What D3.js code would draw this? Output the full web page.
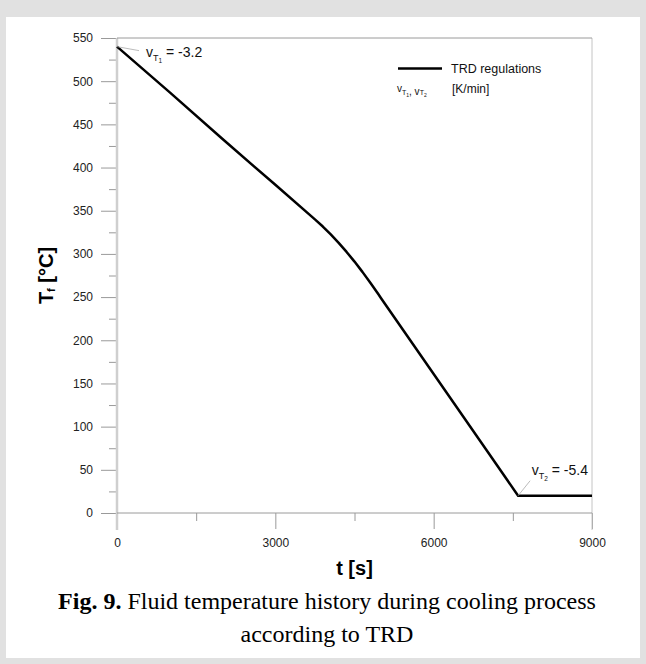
<!DOCTYPE html>
<html>
<head>
<meta charset="utf-8">
<script src="https://cdn.jsdelivr.net/npm/d3@7"></script>
<style>
  html, body { margin: 0; padding: 0; background: #e1e1e1; }
  svg { display: block; }
  .tick text { font-family: "Liberation Sans", Arial, sans-serif; font-size: 12px; fill: #222; }
  .tick line { stroke: #9a9a9a; }
</style>
</head>
<body>
<svg id="chart" width="646" height="664"></svg>
<script>
// values
const times = [0, 1000, 2000, 3000, 3750, 3900, 4050, 4200, 4350, 4500, 4650, 4800, 4950, 5000, 6000, 7000, 7600, 8000, 9000];
const temps = [540, 487, 433, 380, 340, 331.7, 322.6, 312.8, 302.3, 291.1, 279.2, 266.6, 253.5, 249, 161, 73, 20, 20, 20];

const xTicks = [0, 3000, 6000, 9000];
const xMinor = [1500, 4500, 7500];
const yTicks = [0, 50, 100, 150, 200, 250, 300, 350, 400, 450, 500, 550];
const yMinor = [25, 75, 125, 175, 225, 275, 325, 375, 425, 475, 525];

const svg = d3.select('#chart');
const sans = '"Liberation Sans", Arial, sans-serif';
const serif = '"Liberation Serif", "Times New Roman", serif';

// white panel
svg.append('rect')
  .attr('x', 6).attr('y', 17)
  .attr('width', 634).attr('height', 641)
  .attr('fill', '#fff');

const x = d3.scaleLinear().domain([0, 9000]).range([117, 592]);
const y = d3.scaleLinear().domain([0, 550]).range([513, 38]);

// minor ticks first
svg.append('g')
  .attr('transform', `translate(${x(0)},0)`)
  .call(d3.axisLeft(y).tickValues(yMinor).tickSize(8).tickFormat(''))
  .call(g => g.select('.domain').remove());

svg.append('g')
  .attr('transform', `translate(0,${y(0)})`)
  .call(d3.axisBottom(x).tickValues(xMinor).tickSize(8).tickFormat(''))
  .call(g => g.select('.domain').remove());

svg.append('g')
  .attr('transform', `translate(${x(0)},0)`)
  .call(d3.axisLeft(y).tickValues(yTicks).tickSize(16).tickPadding(8))
  .call(g => g.select('.domain').remove());

svg.append('g')
  .attr('transform', `translate(0,${y(0)})`)
  .call(d3.axisBottom(x).tickValues(xTicks).tickSize(16).tickPadding(9).tickFormat(d3.format('d')))
  .call(g => g.select('.domain').remove());

// frame
const frame = svg.append('g').attr('fill', 'none');
frame.append('line')
  .attr('x1', x(0)).attr('x2', x(0)).attr('y1', y(550)).attr('y2', y(0) + 17)
  .attr('stroke', '#cfcfcf').attr('stroke-width', 2.5);
frame.append('line')
  .attr('x1', x(9000)).attr('x2', x(9000)).attr('y1', y(550)).attr('y2', y(0) + 17)
  .attr('stroke', '#c4c4c4');
frame.append('line')
  .attr('x1', x(0)).attr('x2', x(9000)).attr('y1', y(550)).attr('y2', y(550))
  .attr('stroke', '#9a9a9a');
frame.append('line')
  .attr('x1', x(0)).attr('x2', x(9000)).attr('y1', y(0)).attr('y2', y(0))
  .attr('stroke', '#9a9a9a');

// data line
const line = d3.line()
  .x((d, i) => x(times[i]))
  .y(d => y(d));

svg.append('path')
  .datum(temps)
  .attr('d', line)
  .attr('fill', 'none')
  .attr('stroke', '#000')
  .attr('stroke-width', 2.5)
  .attr('stroke-linejoin', 'round');

// annotations
function rateLabel(g, xp, yp, anchor, sub, value) {
  const t = g.append('text')
    .attr('x', xp).attr('y', yp)
    .attr('text-anchor', anchor)
    .attr('font-family', sans).attr('font-size', 14).attr('fill', '#111');
  t.append('tspan').text('v');
  t.append('tspan').attr('font-size', 9).attr('dy', 4).text('T');
  t.append('tspan').attr('font-size', 6.5).attr('dy', 2).text(sub);
  t.append('tspan').attr('font-size', 14).attr('dy', -6).text(' = ' + value);
}

const ann = svg.append('g');
ann.append('line')
  .attr('x1', x(times[0])).attr('y1', y(temps[0]))
  .attr('x2', x(times[0]) + 22).attr('y2', y(temps[0]) + 4)
  .attr('stroke', '#aaa').attr('stroke-width', 0.8);
rateLabel(ann, 146, 57, 'start', '1', '-3.2');

ann.append('line')
  .attr('x1', x(7600)).attr('y1', y(20))
  .attr('x2', x(7600) + 12).attr('y2', y(20) - 15)
  .attr('stroke', '#aaa').attr('stroke-width', 0.8);
rateLabel(ann, 588, 475, 'end', '2', '-5.4');

// legend
const leg = svg.append('g');
leg.append('line')
  .attr('x1', 398).attr('x2', 442).attr('y1', 68.5).attr('y2', 68.5)
  .attr('stroke', '#000').attr('stroke-width', 2.7);
leg.append('text')
  .attr('x', 451).attr('y', 73)
  .attr('font-family', sans).attr('font-size', 12.5).attr('fill', '#111')
  .text('TRD regulations');
const lv = leg.append('text')
  .attr('x', 397).attr('y', 92)
  .attr('font-family', sans).attr('font-size', 10).attr('fill', '#111');
lv.append('tspan').text('v');
lv.append('tspan').attr('font-size', 7).attr('dy', 3).text('T');
lv.append('tspan').attr('font-size', 5).attr('dy', 1.5).text('1');
lv.append('tspan').attr('font-size', 10).attr('dy', -1.5).text(', v');
lv.append('tspan').attr('font-size', 7).attr('dy', 0).text('T');
lv.append('tspan').attr('font-size', 5).attr('dy', 1.5).text('2');
leg.append('text')
  .attr('x', 452).attr('y', 93)
  .attr('font-family', sans).attr('font-size', 12).attr('fill', '#111')
  .text('[K/min]');

// axis titles
svg.append('text')
  .attr('x', (x(0) + x(9000)) / 2).attr('y', 575)
  .attr('text-anchor', 'middle')
  .attr('font-family', sans).attr('font-size', 20).attr('font-weight', 'bold')
  .text('t [s]');

const yt = svg.append('text')
  .attr('transform', `translate(53,${(y(0) + y(550)) / 2}) rotate(-90)`)
  .attr('text-anchor', 'middle')
  .attr('font-family', sans).attr('font-size', 20).attr('font-weight', 'bold');
yt.append('tspan').text('T');
yt.append('tspan').attr('font-size', 11).attr('dy', 2).text('f');
yt.append('tspan').attr('font-size', 20).attr('dy', -2).text(' [°C]');

// caption
const cap1 = svg.append('text')
  .attr('x', 327).attr('y', 609)
  .attr('text-anchor', 'middle')
  .attr('font-family', serif).attr('font-size', 24).attr('fill', '#000');
cap1.append('tspan').attr('font-weight', 'bold').text('Fig. 9.');
cap1.append('tspan').text(' Fluid temperature history during cooling process');
svg.append('text')
  .attr('x', 327).attr('y', 642)
  .attr('text-anchor', 'middle')
  .attr('font-family', serif).attr('font-size', 24).attr('fill', '#000')
  .text('according to TRD');
</script>
</body>
</html>
